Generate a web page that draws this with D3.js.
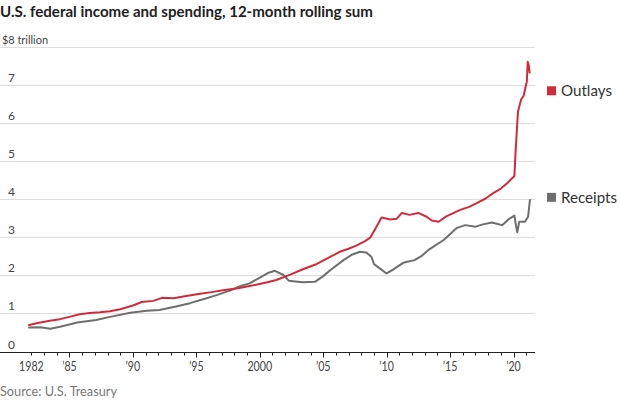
<!DOCTYPE html>
<html>
<head>
<meta charset="utf-8">
<script src="https://cdn.jsdelivr.net/npm/d3@7/dist/d3.min.js"></script>
<style>
  html, body { margin: 0; padding: 0; background: #fff; }
  svg { display: block; }
  text { font-family: "Lato", "Roboto", sans-serif; }
</style>
</head>
<body>
<svg id="chart" width="620" height="400"></svg>
<script>
// ---- Data ----
const title = "U.S. federal income and spending, 12-month rolling sum";
const unitLabel = "$8 trillion";
const source = "Source: U.S. Treasury";
const seriesNames = ["Outlays", "Receipts"];

const outlaysYears = [1981.75, 1982.5, 1983.45, 1984.25, 1985.0, 1985.8, 1986.6, 1987.4, 1988.2, 1989.0,
  1990.0, 1990.7, 1991.6, 1992.3, 1993.2, 1994.2, 1995.3, 1996.2, 1997.1, 1998.4,
  1999.8, 2000.6, 2001.3, 2002.4, 2003.4, 2004.5, 2005.4, 2006.3, 2007.0, 2007.6,
  2008.3, 2008.7, 2009.2, 2009.6, 2010.3, 2010.8, 2011.2, 2011.8, 2012.5, 2013.15,
  2013.55, 2014.1, 2014.7, 2015.8, 2016.5, 2017.1, 2017.8, 2018.4, 2019.0, 2019.5,
  2020.07, 2020.17, 2020.25, 2020.35, 2020.6, 2020.8, 2020.95, 2021.05, 2021.12, 2021.2, 2021.28];
const outlaysValues = [0.69, 0.75, 0.81, 0.85, 0.91, 0.98, 1.01, 1.03, 1.06, 1.11,
  1.21, 1.30, 1.33, 1.41, 1.40, 1.46, 1.52, 1.56, 1.61, 1.67,
  1.76, 1.82, 1.88, 2.02, 2.16, 2.30, 2.46, 2.62, 2.70, 2.78,
  2.90, 2.99, 3.28, 3.52, 3.47, 3.49, 3.64, 3.59, 3.64, 3.54,
  3.44, 3.41, 3.55, 3.72, 3.80, 3.90, 4.02, 4.16, 4.28, 4.42,
  4.61, 5.29, 5.73, 6.30, 6.62, 6.72, 6.95, 7.09, 7.61, 7.53, 7.31];

const receiptsYears = [1981.75, 1982.7, 1983.5, 1984.25, 1985.0, 1985.6, 1987.1, 1988.2, 1989.8, 1991.1,
  1992.1, 1993.4, 1994.5, 1995.8, 1996.6, 1997.65, 1998.5, 1999.2, 2000.15, 2000.7,
  2001.2, 2001.86, 2002.3, 2002.8, 2003.4, 2004.35, 2005.0, 2005.5, 2006.6, 2007.3,
  2007.9, 2008.4, 2008.8, 2009.0, 2009.35, 2010.0, 2010.5, 2011.3, 2012.2, 2012.8,
  2013.3, 2014.5, 2015.5, 2016.2, 2017.0, 2017.6, 2018.3, 2019.1, 2019.6, 2020.07,
  2020.2, 2020.3, 2020.45, 2020.9, 2021.15, 2021.3];
const receiptsValues = [0.63, 0.635, 0.60, 0.65, 0.71, 0.76, 0.83, 0.91, 1.02, 1.07,
  1.09, 1.18, 1.27, 1.40, 1.48, 1.60, 1.72, 1.79, 1.97, 2.07,
  2.12, 2.01, 1.86, 1.84, 1.82, 1.83, 1.98, 2.12, 2.40, 2.55,
  2.62, 2.60, 2.49, 2.30, 2.21, 2.05, 2.15, 2.33, 2.40, 2.52,
  2.67, 2.93, 3.24, 3.32, 3.28, 3.34, 3.39, 3.32, 3.47, 3.57,
  3.30, 3.13, 3.41, 3.41, 3.54, 4.00];

const yTicks = [0, 1, 2, 3, 4, 5, 6, 7, 8];
const yTickLabels = ["0", "1", "2", "3", "4", "5", "6", "7", "$8 trillion"];
const xMajorTicks = [1982, 1985, 1990, 1995, 2000, 2005, 2010, 2015, 2020];
const xMajorLabels = ["1982", "\u201985", "\u201990", "\u201995", "2000", "\u201905", "\u201910", "\u201915", "\u201920"];
const xMinorTicks = d3.range(1982, 2022);

const colors = { Outlays: "#d12b3b", Receipts: "#6e6e6e" };

// ---- Layout ----
const svg = d3.select("#chart");
const x = d3.scaleLinear().domain([1982, 2020]).range([31.4, 513.5]);
const y = d3.scaleLinear().domain([0, 8]).range([351.5, 47]);
const plotRight = 535;

// squeeze text horizontally so it has the narrow look of the reference typeface
function squeeze(sel, factor) {
  sel.each(function () {
    const w = this.getComputedTextLength();
    d3.select(this).attr("textLength", w * factor).attr("lengthAdjust", "spacingAndGlyphs");
  });
}
function fitWidth(sel, target) {
  sel.each(function () {
    d3.select(this).attr("textLength", target).attr("lengthAdjust", "spacingAndGlyphs");
  });
}

// Title
svg.append("text")
  .attr("x", 0).attr("y", 17)
  .attr("font-size", 15).attr("font-weight", "bold")
  .attr("fill", "#222")
  .text(title)
  .call(fitWidth, 373);

// Gridlines
svg.append("g").selectAll("line")
  .data(yTicks.filter(d => d > 0))
  .join("line")
  .attr("x1", 0).attr("x2", plotRight)
  .attr("y1", d => Math.round(y(d)) + 0.5).attr("y2", d => Math.round(y(d)) + 0.5)
  .attr("stroke", "#dedede").attr("stroke-width", 1);

// Y labels
const yl = svg.append("g").selectAll("text")
  .data(yTicks)
  .join("text")
  .attr("x", (d, i) => i === yTicks.length - 1 ? 2 : 8)
  .attr("y", d => y(d) - 3)
  .attr("font-size", 12)
  .attr("fill", "#444")
  .text((d, i) => yTickLabels[i]);
yl.filter((d, i) => i === yTicks.length - 1).call(fitWidth, 46);

// Lines
const line = d3.line().x(d => x(d[0])).y(d => y(d[1]));
const outlays = outlaysYears.map((yr, i) => [yr, outlaysValues[i]]);
const receipts = receiptsYears.map((yr, i) => [yr, receiptsValues[i]]);

svg.append("path").datum(receipts)
  .attr("d", line).attr("fill", "none")
  .attr("stroke", colors.Receipts).attr("stroke-width", 2).attr("stroke-linejoin", "round");
svg.append("path").datum(outlays)
  .attr("d", line).attr("fill", "none")
  .attr("stroke", colors.Outlays).attr("stroke-width", 2).attr("stroke-linejoin", "round");

// X axis
const axisY = Math.round(y(0)) + 0.5;
svg.append("line")
  .attr("x1", 0).attr("x2", plotRight)
  .attr("y1", axisY).attr("y2", axisY)
  .attr("stroke", "#222").attr("stroke-width", 1);

svg.append("g").selectAll("line")
  .data(xMinorTicks)
  .join("line")
  .attr("x1", d => Math.round(x(d)) + 0.5).attr("x2", d => Math.round(x(d)) + 0.5)
  .attr("y1", axisY).attr("y2", d => axisY + ((d % 5 === 0) ? 5 : 3))
  .attr("stroke", "#222").attr("stroke-width", 1);

const xl = svg.append("g").selectAll("text")
  .data(xMajorTicks)
  .join("text")
  .attr("x", d => x(d))
  .attr("y", 371)
  .attr("text-anchor", "middle")
  .attr("font-size", 12.5)
  .attr("fill", "#444")
  .text((d, i) => xMajorLabels[i]);
squeeze(xl, 0.85);

// Legend
const legendY = { Outlays: 6.85, Receipts: 4.05 };
const lg = svg.append("g").selectAll("g")
  .data(seriesNames)
  .join("g");
lg.append("rect")
  .attr("x", 547).attr("y", d => y(legendY[d]) - 4.5)
  .attr("width", 9).attr("height", 9)
  .attr("fill", d => colors[d]);
const lt = lg.append("text")
  .attr("x", 561).attr("y", d => y(legendY[d]) + 5.5)
  .attr("font-size", 15)
  .attr("fill", "#333")
  .text(d => d);
lt.filter(d => d === "Outlays").call(fitWidth, 51);
lt.filter(d => d === "Receipts").call(fitWidth, 56);

// Source
svg.append("text")
  .attr("x", 0).attr("y", 396)
  .attr("font-size", 13)
  .attr("fill", "#777")
  .text(source)
  .call(fitWidth, 117);
</script>
</body>
</html>
